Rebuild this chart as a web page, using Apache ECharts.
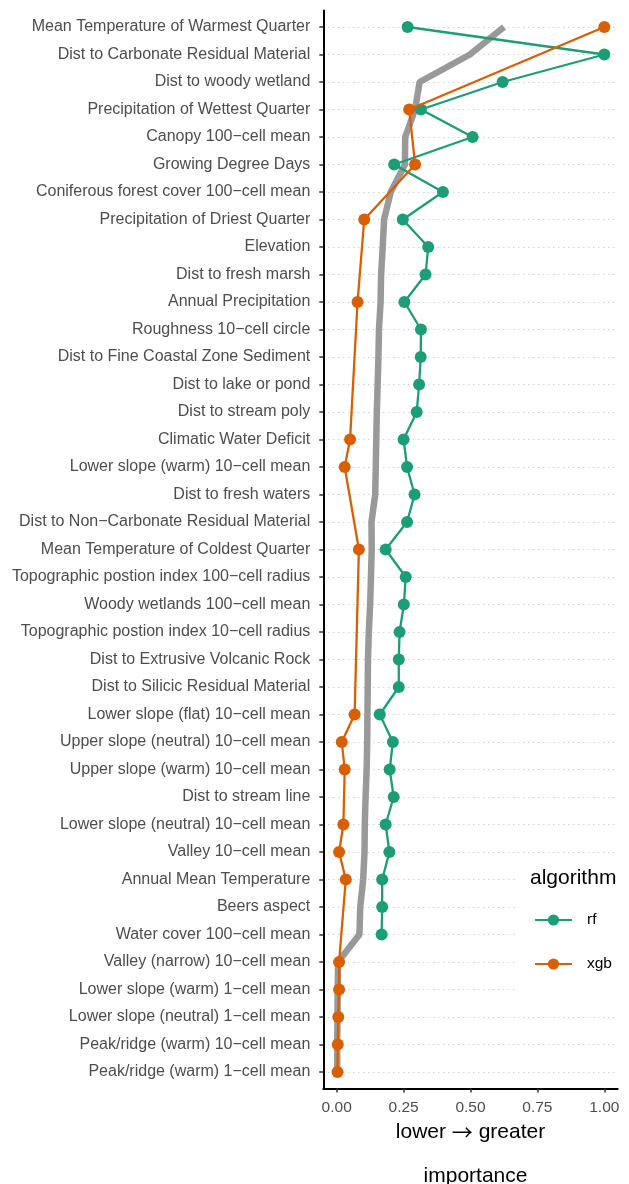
<!DOCTYPE html>
<html>
<head>
<meta charset="utf-8">
<script src="https://cdn.jsdelivr.net/npm/echarts@6/dist/echarts.min.js"></script>
<style>
  html, body { margin: 0; padding: 0; background: #fff; }
  #main { width: 629px; height: 1184px; }
</style>
</head>
<body>
<div id="main"></div>
<script>
// predictors, top to bottom
const categories = [
  'Mean Temperature of Warmest Quarter',
  'Dist to Carbonate Residual Material',
  'Dist to woody wetland',
  'Precipitation of Wettest Quarter',
  'Canopy 100\u2212cell mean',
  'Growing Degree Days',
  'Coniferous forest cover 100\u2212cell mean',
  'Precipitation of Driest Quarter',
  'Elevation',
  'Dist to fresh marsh',
  'Annual Precipitation',
  'Roughness 10\u2212cell circle',
  'Dist to Fine Coastal Zone Sediment',
  'Dist to lake or pond',
  'Dist to stream poly',
  'Climatic Water Deficit',
  'Lower slope (warm) 10\u2212cell mean',
  'Dist to fresh waters',
  'Dist to Non\u2212Carbonate Residual Material',
  'Mean Temperature of Coldest Quarter',
  'Topographic postion index 100\u2212cell radius',
  'Woody wetlands 100\u2212cell mean',
  'Topographic postion index 10\u2212cell radius',
  'Dist to Extrusive Volcanic Rock',
  'Dist to Silicic Residual Material',
  'Lower slope (flat) 10\u2212cell mean',
  'Upper slope (neutral) 10\u2212cell mean',
  'Upper slope (warm) 10\u2212cell mean',
  'Dist to stream line',
  'Lower slope (neutral) 10\u2212cell mean',
  'Valley 10\u2212cell mean',
  'Annual Mean Temperature',
  'Beers aspect',
  'Water cover 100\u2212cell mean',
  'Valley (narrow) 10\u2212cell mean',
  'Lower slope (warm) 1\u2212cell mean',
  'Lower slope (neutral) 1\u2212cell mean',
  'Peak/ridge (warm) 10\u2212cell mean',
  'Peak/ridge (warm) 1\u2212cell mean'
];

const rfValues = [
  0.265, 1.00, 0.62, 0.315, 0.508, 0.215, 0.397, 0.247, 0.342, 0.332,
  0.253, 0.315, 0.314, 0.308, 0.299, 0.250, 0.263, 0.291, 0.263, 0.183,
  0.258, 0.251, 0.235, 0.232, 0.232, 0.161, 0.210, 0.198, 0.213, 0.183,
  0.197, 0.170, 0.170, 0.168, null, null, null, null, null
];

const xgbValues = [
  1.00, null, null, 0.271, null, 0.293, null, 0.103, null, null,
  0.078, null, null, null, null, 0.050, 0.030, null, null, 0.083,
  null, null, null, null, null, 0.067, 0.019, 0.030, null, 0.025,
  0.009, 0.034, null, null, 0.009, 0.009, 0.006, 0.004, 0.003
];

// thick grey line (overall importance)
const overallValues = [
  0.625, 0.498, 0.310, 0.293, 0.256, 0.255, 0.202, 0.177, 0.172, 0.166,
  0.164, 0.158, 0.156, 0.153, 0.150, 0.148, 0.146, 0.144, 0.130, 0.131,
  0.128, 0.125, 0.120, 0.117, 0.116, 0.115, 0.114, 0.112, 0.108, 0.105,
  0.104, 0.099, 0.088, 0.085, 0.005, 0.004, 0.003, 0.002, 0.002
];

const xTicks = [0, 0.25, 0.5, 0.75, 1];

const rowIdx = categories.map((c, i) => i);

function toPoints(vals) {
  const pts = [];
  vals.forEach((v, i) => {
    if (v !== null) pts.push([v, i]);
  });
  return pts;
}

const font = '"Liberation Sans", Arial, sans-serif';

const chart = echarts.init(document.getElementById('main'));

const option = {
  backgroundColor: '#fff',
  animation: false,
  textStyle: { fontFamily: font },
  title: [
    {
      text: 'algorithm',
      left: 530,
      top: 868,
      padding: 0,
      textStyle: { fontFamily: font, fontSize: 21, fontWeight: 'normal', color: '#000' }
    },
    {
      text: 'importance',
      left: 470.5,
      top: 1161,
      textAlign: 'center',
      textStyle: { fontFamily: font, fontSize: 21, fontWeight: 'normal', color: '#000' }
    }
  ],
  grid: {
    left: 323.3,
    right: 11.3,
    top: 10.5,
    bottom: 95.5,
    containLabel: false
  },
  legend: {
    orient: 'vertical',
    left: 515,
    top: 857,
    padding: [55, 20, 30, 19],
    backgroundColor: '#fff',
    itemWidth: 37,
    itemHeight: 14,
    itemGap: 28,
    data: ['rf', 'xgb'],
    textStyle: { fontFamily: font, fontSize: 15.5, color: '#000', padding: [0, 0, 0, 10] }
  },
  xAxis: {
    type: 'value',
    min: -0.05,
    max: 1.05,
    name: '{t|lower }{a|\u2192}{t| greater}',
    nameLocation: 'middle',
    nameGap: 33,
    nameTextStyle: {
      fontFamily: font, fontSize: 21, color: '#000',
      rich: {
        t: { fontFamily: font, fontSize: 21, color: '#000' },
        a: { fontFamily: '"Noto Sans CJK SC"', fontSize: 21, color: '#000' }
      }
    },
    axisLine: { show: true, onZero: false, lineStyle: { color: '#000', width: 2 } },
    axisTick: { show: true, length: 4, customValues: xTicks, lineStyle: { color: '#333', width: 1.5 } },
    axisLabel: {
      customValues: xTicks,
      formatter: (v) => v.toFixed(2),
      fontFamily: font,
      fontSize: 15.5,
      color: '#4d4d4d',
      margin: 11
    },
    splitLine: { show: false }
  },
  yAxis: {
    type: 'value',
    inverse: true,
    min: -0.6,
    max: 38.6,
    axisLine: { show: true, onZero: false, lineStyle: { color: '#000', width: 2 } },
    axisTick: { show: true, length: 4, customValues: rowIdx, lineStyle: { color: '#333', width: 1.5 } },
    axisLabel: {
      customValues: rowIdx,
      formatter: (v) => categories[Math.round(v)],
      fontFamily: font,
      fontSize: 16,
      color: '#4d4d4d',
      margin: 13
    },
    splitLine: {
      show: true,
      lineStyle: { color: '#bdbdbd', width: 1, type: [1, 4] }
    }
  },
  series: [
    {
      name: 'overall',
      type: 'line',
      data: toPoints(overallValues),
      symbol: 'none',
      lineStyle: { color: '#999999', width: 6.5 },
      itemStyle: { color: '#999999' },
      z: 1
    },
    {
      name: 'rf',
      type: 'line',
      data: toPoints(rfValues),
      symbol: 'circle',
      symbolSize: 12,
      lineStyle: { color: '#1B9E77', width: 2.3 },
      itemStyle: { color: '#1B9E77' },
      z: 2
    },
    {
      name: 'xgb',
      type: 'line',
      data: toPoints(xgbValues),
      symbol: 'circle',
      symbolSize: 12,
      lineStyle: { color: '#D95F02', width: 2.3 },
      itemStyle: { color: '#D95F02' },
      z: 3
    }
  ]
};

chart.setOption(option);
</script>
</body>
</html>
